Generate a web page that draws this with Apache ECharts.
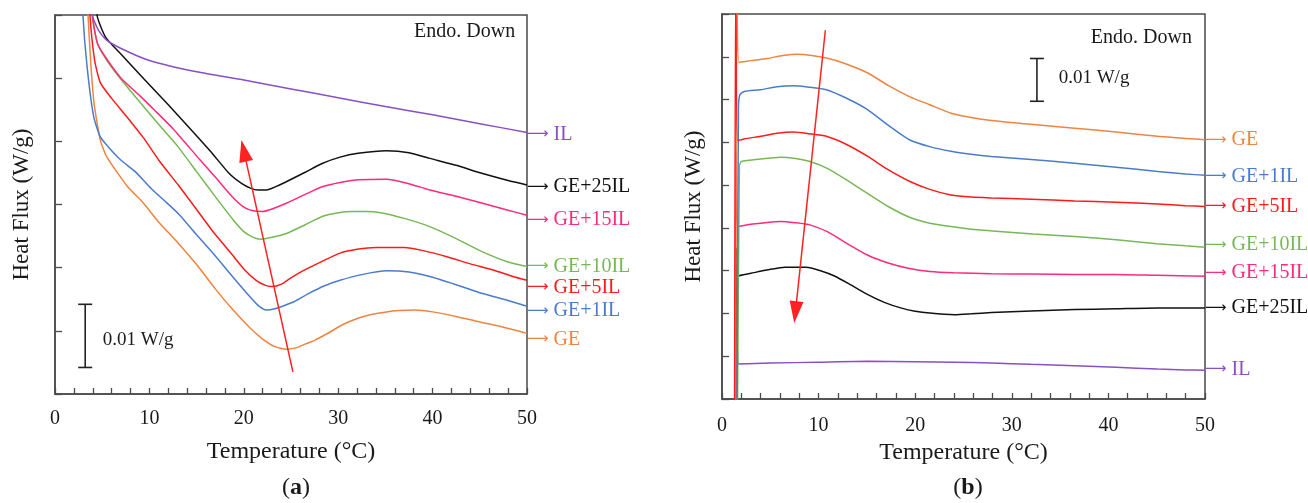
<!DOCTYPE html>
<html>
<head>
<meta charset="utf-8">
<script src="https://cdn.jsdelivr.net/npm/echarts@6/dist/echarts.min.js"></script>
<style>
  html, body { margin: 0; padding: 0; background: #ffffff; }
  #chart { width: 1308px; height: 503px; }
</style>
</head>
<body>
<div id="chart"></div>
<script>
// DSC traces of gelatin (GE) / ionic liquid (IL) blends.
// Heat flux in W/g; traces are offset vertically, so the y axis carries no numbers.
const seriesNames  = ['GE', 'GE+1IL', 'GE+5IL', 'GE+10IL', 'GE+15IL', 'GE+25IL', 'IL'];
const seriesColors = ['#EE8440', '#4A7CCB', '#FF1A1A', '#76B856', '#FF2A78', '#111111', '#8A4FC4'];
const xTickLabels  = [0, 10, 20, 30, 40, 50];

// ---- panel (a) : [temperature °C, heat flux W/g] ----
const aGE = [[3.3,0.070],[3.5,0.0600],[4.1,0.0465],[4.8,0.0402],[5.5,0.0375],[7.7,0.0328],[9.2,0.0305],[11,0.0272],[13.1,0.0238],[15,0.0205],[16.9,0.0168],[18.8,0.0134],[20.7,0.0104],[22,0.0087],[23.3,0.0075],[24.5,0.0071],[25.5,0.0073],[26.5,0.0079],[27.5,0.0085],[29,0.0097],[30.5,0.0110],[32.1,0.0120],[33.5,0.0126],[35.1,0.0130],[36.5,0.0132],[38.1,0.0133],[40,0.0130],[42.7,0.0122],[45,0.0114],[47.2,0.0107],[49,0.0100],[50,0.0096]];
const aGE1 = [[2.75,0.070],[2.96,0.0600],[3.4,0.0518],[4.1,0.0439],[4.8,0.0407],[5.6,0.0392],[7,0.0370],[8.5,0.0352],[10.2,0.0325],[11.6,0.0306],[13.1,0.0285],[15,0.0252],[16.9,0.0220],[18.8,0.0186],[20.7,0.0153],[21.6,0.0139],[22.4,0.0133],[23.3,0.0135],[24.3,0.0140],[25.3,0.0146],[27,0.0160],[28.5,0.0171],[30.2,0.0180],[32.5,0.0189],[35.1,0.0195],[37.5,0.0193],[39.7,0.0186],[42.5,0.0173],[45.3,0.0159],[48,0.0148],[50,0.0139]];
const aGE5 = [[3.4,0.070],[3.7,0.0600],[4.2,0.0528],[4.8,0.0493],[6,0.0468],[7.6,0.0439],[9.4,0.0405],[11.1,0.0368],[13.1,0.0330],[15,0.0292],[16.9,0.0254],[18.8,0.0220],[20,0.0198],[21.3,0.0180],[22.3,0.0172],[23,0.0170],[24,0.0174],[25,0.0184],[26.4,0.0196],[28.3,0.0210],[30.2,0.0223],[32,0.0229],[34,0.0232],[37,0.0232],[39,0.0227],[41.6,0.0217],[44,0.0206],[46.5,0.0196],[48.5,0.0186],[50,0.0180]];
const aGE10 = [[3.6,0.070],[3.95,0.0600],[4.5,0.0555],[5.5,0.0528],[7,0.0498],[9,0.0462],[11.2,0.0423],[13,0.0392],[15,0.0352],[17,0.0312],[18.8,0.0277],[20,0.0257],[21,0.0248],[21.8,0.0245],[23,0.0248],[24.5,0.0254],[26.5,0.0268],[28.3,0.0281],[30,0.0287],[31.5,0.0289],[33,0.0289],[34.5,0.0287],[37,0.0278],[39.7,0.0265],[42.5,0.0246],[45.3,0.0225],[48,0.0209],[50,0.0202]];
const aGE15 = [[3.6,0.070],[3.95,0.0600],[4.5,0.0555],[5.5,0.0530],[7,0.0500],[9,0.0472],[10.5,0.0450],[12.5,0.0420],[15.4,0.0370],[17,0.0343],[18.8,0.0312],[20,0.0296],[21,0.0290],[22,0.0289],[23,0.0293],[24.5,0.0302],[26.5,0.0316],[28.3,0.0328],[30.2,0.0335],[32.1,0.0339],[35.1,0.0340],[37.5,0.0333],[39.7,0.0323],[42.5,0.0313],[45.3,0.0302],[48,0.0291],[50,0.0283]];
const aGE25 = [[4.1,0.070],[4.45,0.0600],[5.35,0.0565],[7,0.0538],[9.4,0.0499],[12,0.0458],[14.8,0.0412],[16.6,0.0382],[18.4,0.0350],[19.8,0.0333],[20.7,0.0326],[21.5,0.0323],[22.4,0.0323],[23.5,0.0329],[24.5,0.0336],[26.5,0.0351],[28.3,0.0365],[30.2,0.0375],[32.1,0.0381],[35.1,0.0385],[37.5,0.0382],[39.7,0.0373],[42.5,0.0362],[45.3,0.0349],[48,0.0338],[50,0.0331]];
const aIL = [[3.6,0.068],[3.95,0.0600],[4.6,0.0576],[5.4,0.0561],[7,0.0547],[10,0.0528],[15,0.0510],[20,0.0497],[25,0.0483],[30,0.0469],[35,0.0455],[40,0.0442],[45,0.0428],[50,0.0414]];
const aArrow    = [[25.2, 0.0035], [20.0, 0.0385]];   // trend arrow, tail -> head
const aScaleBar = [[3.2, 0.0042], [3.2, 0.0142]];     // 0.01 W/g
const aScaleTextAt = [5.0, 0.0085];
const aEndoAt      = [48.8, 0.0574];

// ---- panel (b) ----
const bGE = [[1.4,-0.005],[1.55,0.100],[1.75,0.0787],[3,0.0791],[4.7,0.0796],[6.3,0.0803],[7.8,0.0806],[9.3,0.0803],[10.8,0.0797],[12.5,0.0786],[15.1,0.0762],[17.2,0.0733],[19.4,0.0707],[21.5,0.0688],[23.7,0.0668],[25.8,0.0658],[27.9,0.0651],[32,0.0642],[36.5,0.0633],[40.8,0.0624],[45.1,0.0614],[48,0.0609],[50,0.0606]];
const bGE1 = [[1.55,-0.005],[1.7,0.068],[1.85,0.0711],[2.3,0.0719],[4,0.0723],[5.7,0.0730],[7.4,0.0732],[9,0.0729],[10.8,0.0723],[12.9,0.0703],[15.1,0.0676],[17.2,0.0640],[19.4,0.0606],[21.5,0.0590],[23.7,0.0579],[25.8,0.0572],[27.9,0.0567],[32,0.0560],[36.5,0.0551],[40.8,0.0542],[45.1,0.0532],[48,0.0526],[50,0.0523]];
const bGE5 = [[1.3,-0.005],[1.42,0.100],[1.62,0.0604],[2.3,0.0608],[4,0.0614],[5.7,0.0621],[7.4,0.0624],[9,0.0620],[10.8,0.0614],[12.9,0.0595],[15.1,0.0567],[17.2,0.0536],[19.4,0.0509],[21.5,0.0490],[23.7,0.0477],[25.8,0.0472],[27.9,0.0470],[32,0.0467],[36.5,0.0463],[40.8,0.0460],[45.1,0.0456],[48,0.0452],[50,0.0450]];
const bGE10 = [[1.6,-0.005],[1.8,0.0545],[2.0,0.0555],[4,0.0561],[6.1,0.0565],[7.6,0.0562],[9.1,0.0555],[11,0.0538],[12.9,0.0512],[15.1,0.0480],[17.2,0.0450],[19.4,0.0425],[21.5,0.0411],[23.7,0.0403],[25.8,0.0397],[28,0.0393],[32.2,0.0386],[36.5,0.0380],[40.8,0.0372],[45,0.0363],[48,0.0358],[50,0.0355]];
const bGE15 = [[1.35,-0.005],[1.47,0.058],[1.62,0.0403],[2.5,0.0407],[4,0.0411],[6.1,0.0415],[7.6,0.0412],[9.1,0.0407],[11,0.0390],[12.9,0.0364],[15.1,0.0336],[17.2,0.0318],[19.4,0.0305],[21.5,0.0298],[24,0.0295],[27.9,0.0293],[32,0.0292],[36.5,0.0291],[40.8,0.0291],[45,0.0289],[50,0.0287]];
const bGE25 = [[1.42,-0.005],[1.52,0.0353],[1.65,0.0288],[3,0.0294],[4.8,0.0302],[6.5,0.0308],[8.7,0.0308],[10.2,0.0300],[11.7,0.0287],[13.4,0.0266],[15.1,0.0244],[16.8,0.0226],[18.5,0.0213],[20,0.0205],[21.5,0.0201],[23,0.0198],[24.1,0.0197],[25.8,0.0199],[27.9,0.0202],[32,0.0206],[36.5,0.0209],[40.8,0.0211],[45.1,0.0213],[50,0.0213]];
const bIL = [[1.5,-0.005],[1.6,0.0115],[1.72,0.0082],[5,0.0084],[10,0.0086],[15.1,0.0088],[20,0.0087],[24,0.0086],[27.9,0.0084],[32,0.0081],[36.5,0.0078],[40.8,0.0074],[45.1,0.0070],[48,0.0068],[50,0.0067]];
const bArrow    = [[10.7, 0.0862], [7.6, 0.0203]];
const bScaleBar = [[32.6, 0.0696], [32.6, 0.0796]];
const bScaleTextAt = [34.8, 0.0750];
const bEndoAt      = [48.7, 0.0845];

const panelA = [aGE, aGE1, aGE5, aGE10, aGE15, aGE25, aIL];
const panelB = [bGE, bGE1, bGE5, bGE10, bGE15, bGE25, bIL];

// ---- styling ----
const SERIF = 'Liberation Serif';
const FRAME = '#4a4a4a';
const TEXT = '#1a1a1a';
const ARROW_RED = '#FF2222';
const labelShiftA = [6, 5, 7, 0, 5, 2, 2];     // px nudges of the end labels
const labelShiftB = [0, 1, 0, -2, -3, 0, -1];
const drawOrderB = [6, 5, 4, 3, 1, 0, 2];      // red trace on top in panel (b)

function xAxisFor(gi, labelMargin, nameGap) {
  return {
    type: 'value', gridIndex: gi, min: 0, max: 50, interval: 2,
    name: 'Temperature (\u00B0C)', nameLocation: 'middle', nameGap: nameGap,
    nameTextStyle: { fontFamily: SERIF, fontSize: 24, color: TEXT },
    axisLine: { show: true, lineStyle: { color: FRAME, width: 1.5 } },
    axisTick: { show: true, inside: true, length: 6, lineStyle: { color: FRAME, width: 1.3 } },
    axisLabel: {
      margin: labelMargin, fontFamily: SERIF, fontSize: 20, color: TEXT,
      formatter: v => (xTickLabels.indexOf(v) >= 0 ? String(v) : '')
    },
    splitLine: { show: false }
  };
}
function yAxisFor(gi, max, nameGap) {
  return {
    type: 'value', gridIndex: gi, min: 0, max: max, interval: 0.01,
    name: 'Heat Flux (W/g)', nameLocation: 'middle', nameGap: nameGap,
    nameTextStyle: { fontFamily: SERIF, fontSize: 23, color: TEXT },
    axisLine: { show: true, lineStyle: { color: FRAME, width: 1.5 } },
    axisTick: { show: true, inside: true, length: 7, lineStyle: { color: FRAME, width: 1.3 } },
    axisLabel: { show: false },
    splitLine: { show: false }
  };
}

function traceSeries(gi, data, idx, shift) {
  const c = seriesColors[idx];
  return {
    type: 'line', xAxisIndex: gi, yAxisIndex: gi,
    name: seriesNames[idx] + (gi ? ' (b)' : ' (a)'),
    data: data, showSymbol: false, symbol: 'none',
    smooth: 0.2, clip: true,
    lineStyle: { color: c, width: 1.5 },
    itemStyle: { color: c },
    endLabel: {
      show: true, formatter: '{arr|\u27F6} ' + seriesNames[idx],
      color: c, fontFamily: SERIF, fontSize: 20,
      distance: 0, offset: [0, shift],
      rich: { arr: { fontFamily: 'DejaVu Sans', fontSize: 15, color: c } }
    },
    z: 3
  };
}

function annotations(gi, arrow, bar, scaleTextAt, endoAt) {
  return [
    {
      // trend arrow
      type: 'line', xAxisIndex: gi, yAxisIndex: gi, data: [], z: 5,
      markLine: {
        silent: true, animation: false,
        label: { show: false },
        lineStyle: { color: ARROW_RED, width: 1.5, type: 'solid' },
        data: [[
          { coord: arrow[0], symbol: 'none' },
          { coord: arrow[1], symbol: 'triangle', symbolSize: [14, 22] }
        ]]
      }
    },
    {
      // 0.01 W/g scale bar with its captions
      type: 'line', xAxisIndex: gi, yAxisIndex: gi, data: bar, z: 4,
      symbol: 'rect', symbolSize: [14, 1.6], showSymbol: true,
      lineStyle: { color: '#222', width: 1.6 },
      itemStyle: { color: '#222' },
      markPoint: {
        silent: true, animation: false,
        symbol: 'circle', symbolSize: 1, itemStyle: { color: 'rgba(0,0,0,0)' },
        data: [
          { coord: scaleTextAt, label: { show: true, position: 'right', distance: 0, formatter: '0.01 W/g',
              fontFamily: SERIF, fontSize: 19, color: TEXT } },
          { coord: endoAt, label: { show: true, position: 'left', distance: 0, formatter: 'Endo. Down',
              fontFamily: SERIF, fontSize: 20, color: TEXT } }
        ]
      }
    }
  ];
}

const series = [];
panelA.forEach((d, i) => series.push(traceSeries(0, d, i, labelShiftA[i])));
drawOrderB.forEach(i => series.push(traceSeries(1, panelB[i], i, labelShiftB[i])));
series.push(...annotations(0, aArrow, aScaleBar, aScaleTextAt, aEndoAt));
series.push(...annotations(1, bArrow, bScaleBar, bScaleTextAt, bEndoAt));

const chart = echarts.init(document.getElementById('chart'), null, { renderer: 'canvas' });
chart.setOption({
  animation: false,
  backgroundColor: '#ffffff',
  grid: [
    { left: 55, top: 15, width: 472, height: 379, show: true, borderColor: FRAME, borderWidth: 1.5 },
    { left: 722, top: 14, width: 483, height: 385, show: true, borderColor: FRAME, borderWidth: 1.5 }
  ],
  xAxis: [xAxisFor(0, 15, 46), xAxisFor(1, 17, 41)],
  yAxis: [yAxisFor(0, 0.06, 22), yAxisFor(1, 0.09, 17)],
  series: series,
  graphic: [
    { type: 'text', x: 296, y: 488, style: { text: '({b|a})', align: 'center', verticalAlign: 'middle',
        fontFamily: SERIF, fontSize: 24, fill: TEXT,
        rich: { b: { fontWeight: 'bold', fontFamily: SERIF, fontSize: 24, fill: TEXT } } } },
    { type: 'text', x: 968, y: 488, style: { text: '({b|b})', align: 'center', verticalAlign: 'middle',
        fontFamily: SERIF, fontSize: 24, fill: TEXT,
        rich: { b: { fontWeight: 'bold', fontFamily: SERIF, fontSize: 24, fill: TEXT } } } }
  ]
});
</script>
</body>
</html>
